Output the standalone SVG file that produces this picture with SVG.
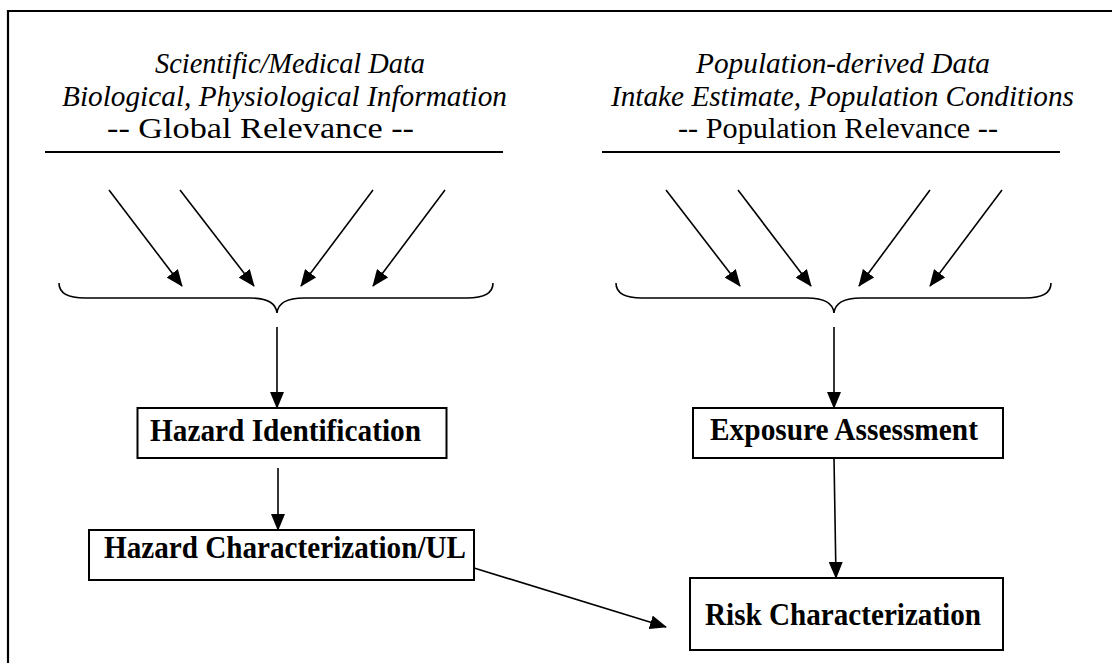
<svg xmlns="http://www.w3.org/2000/svg" width="1112" height="663" viewBox="0 0 1112 663">
<style>
.hdr{font-family:"Liberation Serif","Times New Roman",serif;font-size:30px;fill:#000}
.it{font-style:italic}
.lbl{font-family:"Liberation Serif","Times New Roman",serif;font-size:31px;font-weight:bold;fill:#000}
.box{fill:#fff;stroke:#000;stroke-width:2}
.arr{stroke:#000;stroke-width:1.6;fill:none;marker-end:url(#ah)}
.rule{stroke:#000;stroke-width:2}
.brace{stroke:#000;stroke-width:1.6;fill:none}
</style>
<defs>
<marker id="ah" markerUnits="userSpaceOnUse" markerWidth="18" markerHeight="14" refX="16" refY="7" orient="auto">
<path d="M0,0 L17,7 L0,14 Z" fill="#000"/>
</marker>
</defs>
<rect width="1112" height="663" fill="#fff"/>
<path d="M8,680 V11 H1120" fill="none" stroke="#000" stroke-width="2.2"/>

<g id="header-left">
<text class="hdr it" x="155" y="73" textLength="270" lengthAdjust="spacingAndGlyphs">Scientific/Medical Data</text>
<text class="hdr it" x="62" y="106" textLength="445" lengthAdjust="spacingAndGlyphs">Biological, Physiological Information</text>
<text class="hdr" x="107" y="138" textLength="307" lengthAdjust="spacingAndGlyphs">-- Global Relevance --</text>
<line class="rule" x1="45" y1="152" x2="503" y2="152"/>
</g>
<g id="header-right">
<text class="hdr it" x="696" y="73" textLength="294" lengthAdjust="spacingAndGlyphs">Population-derived Data</text>
<text class="hdr it" x="611" y="106" textLength="463" lengthAdjust="spacingAndGlyphs">Intake Estimate, Population Conditions</text>
<text class="hdr" x="678" y="138" textLength="320" lengthAdjust="spacingAndGlyphs">-- Population Relevance --</text>
<line class="rule" x1="602" y1="152" x2="1060" y2="152"/>
</g>
<g id="brace-left">
<path class="brace" d="M59,283 C59,293 68,298 85,298 H250 C268,298 276,303 277,313 C278,303 286,298 304,298 H467 C484,298 493,293 493,283"/>
</g>
<g id="brace-right">
<path class="brace" d="M616,283 C616,293 625,298 642,298 H807 C825,298 833,303 834,313 C835,303 843,298 861,298 H1025 C1042,298 1051,293 1051,283"/>
</g>

<g id="hazard-identification">
<rect class="box" x="137.5" y="408" width="309" height="50"/>
<text class="lbl" x="150" y="441" textLength="271" lengthAdjust="spacingAndGlyphs">Hazard Identification</text>
</g>
<g id="hazard-characterization">
<rect class="box" x="89" y="530" width="385" height="50"/>
<text class="lbl" x="104" y="558" textLength="362" lengthAdjust="spacingAndGlyphs">Hazard Characterization/UL</text>
</g>
<g id="exposure-assessment">
<rect class="box" x="693" y="408" width="310" height="50"/>
<text class="lbl" x="710" y="440" textLength="268" lengthAdjust="spacingAndGlyphs">Exposure Assessment</text>
</g>
<g id="risk-characterization">
<rect class="box" x="690" y="578" width="313" height="72"/>
<text class="lbl" x="705" y="625" textLength="276" lengthAdjust="spacingAndGlyphs">Risk Characterization</text>
</g>

<g id="connectors">
<line class="arr" x1="109" y1="190" x2="182" y2="286"/>
<line class="arr" x1="180" y1="190" x2="254" y2="286"/>
<line class="arr" x1="373" y1="190" x2="301" y2="286"/>
<line class="arr" x1="445" y1="190" x2="373" y2="286"/>
<line class="arr" x1="666" y1="190" x2="740" y2="286"/>
<line class="arr" x1="738" y1="190" x2="811" y2="286"/>
<line class="arr" x1="930" y1="190" x2="859" y2="286"/>
<line class="arr" x1="1002" y1="190" x2="930" y2="286"/>
<line class="arr" x1="277" y1="327" x2="277" y2="408"/>
<line class="arr" x1="278" y1="468" x2="278" y2="530"/>
<line class="arr" x1="834" y1="327" x2="834" y2="408"/>
<line class="arr" x1="834" y1="458" x2="836" y2="578"/>
<line class="arr" x1="474" y1="568" x2="666" y2="627"/>
</g>
</svg>
